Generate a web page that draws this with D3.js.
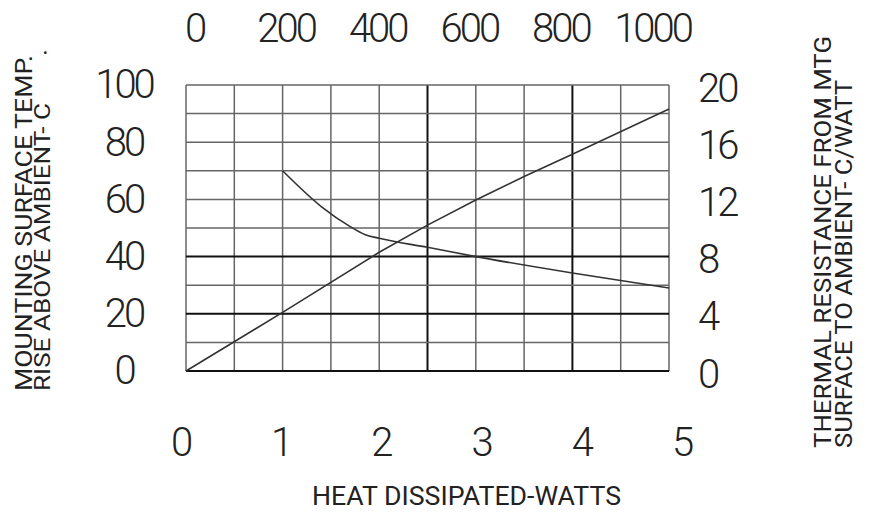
<!DOCTYPE html>
<html>
<head>
<meta charset="utf-8">
<script src="https://cdn.jsdelivr.net/npm/d3@7"></script>
<style>
  body { margin: 0; background: #fff; }
  text { font-family: Roboto, "Liberation Sans", sans-serif; font-weight: 300; fill: #222; }
  .ttl { font-weight: 400; }
</style>
</head>
<body>
<svg id="chart"></svg>
<script>
// temperature rise line (left axis)
var watts = [0, 1, 2, 2.5, 3, 3.5, 4, 5];
var tempRise = [0, 20.5, 41.5, 51, 59.8, 68, 75.8, 91.6];

// thermal resistance curve (right axis)
var resWatts = [1, 1.4, 1.7, 1.85, 2, 2.5, 3, 4, 5];
var resistance = [14, 11.5, 10.1, 9.55, 9.28, 8.65, 8, 6.85, 5.8];

var bottomTicks = [0, 1, 2, 3, 4, 5];
var topTicks = [0, 200, 400, 600, 800, 1000];
var leftTicks = [0, 20, 40, 60, 80, 100];
var rightTicks = [0, 4, 8, 12, 16, 20];
var heavyX = [2.5, 4];
var heavyY = [0, 20, 40];

var width = 872,
  height = 515;

var svg = d3.select("#chart")
  .attr("width", width)
  .attr("height", height);

var x = d3.scaleLinear().domain([0, 5]).range([186, 669]);
var y = d3.scaleLinear().domain([0, 100]).range([371, 85]);
var yR = d3.scaleLinear().domain([0, 20]).range([371, 85]);
var xTop = d3.scaleLinear().domain([0, 1000]).range([194, 652]);
var xLab = d3.scaleLinear().domain([0, 5]).range([180, 681]);

// grid
var grid = svg.append("g");
grid.selectAll("line.v")
  .data(x.ticks(10))
  .enter().append("line")
  .attr("x1", d => x(d)).attr("x2", d => x(d))
  .attr("y1", y(0)).attr("y2", y(100))
  .attr("stroke", d => heavyX.indexOf(d) >= 0 ? "#111" : "#666")
  .attr("stroke-width", d => heavyX.indexOf(d) >= 0 ? 2 : 1.5);

grid.selectAll("line.h")
  .data(y.ticks(10))
  .enter().append("line")
  .attr("x1", x(0)).attr("x2", x(5))
  .attr("y1", d => y(d)).attr("y2", d => y(d))
  .attr("stroke", d => heavyY.indexOf(d) >= 0 ? "#111" : "#666")
  .attr("stroke-width", d => heavyY.indexOf(d) >= 0 ? 2 : 1.5);

// curves
var tempLine = d3.line()
  .x(d => x(d[0]))
  .y(d => y(d[1]));

svg.append("path")
  .datum(d3.zip(watts, tempRise))
  .attr("d", tempLine)
  .attr("fill", "none")
  .attr("stroke", "#333")
  .attr("stroke-width", 1.6);

var resLine = d3.line()
  .curve(d3.curveMonotoneX)
  .x(d => x(d[0]))
  .y(d => yR(d[1]));

svg.append("path")
  .datum(d3.zip(resWatts, resistance))
  .attr("d", resLine)
  .attr("fill", "none")
  .attr("stroke", "#333")
  .attr("stroke-width", 1.6);

// axes
function tidy(g) {
  g.select(".domain").remove();
  g.selectAll("text")
    .attr("fill", "#222")
    .style("font-size", "40px")
    .style("letter-spacing", "-3px");
}

svg.append("g")
  .attr("transform", "translate(0,428)")
  .call(d3.axisBottom(xLab).tickValues(bottomTicks).tickFormat(d3.format("d")).tickSize(0).tickPadding(0))
  .call(tidy);

svg.append("g")
  .attr("transform", "translate(0,42)")
  .call(d3.axisTop(xTop).tickValues(topTicks).tickFormat(d3.format("d")).tickSize(0).tickPadding(0))
  .call(tidy);

svg.append("g")
  .attr("transform", "translate(124,0)")
  .call(d3.axisLeft(y).tickValues(leftTicks).tickSize(0).tickPadding(0))
  .call(tidy)
  .selectAll("text").attr("text-anchor", "middle").attr("x", 0);

svg.append("g")
  .attr("transform", "translate(698,0)")
  .call(d3.axisRight(yR).tickValues(rightTicks).tickSize(0).tickPadding(0))
  .call(tidy)
  .selectAll("text").attr("dy", "0.4em");

// titles
function title(txt, tx, ty, len, size) {
  svg.append("text")
    .attr("class", "ttl")
    .attr("transform", "translate(" + tx + "," + ty + ") rotate(-90)")
    .attr("textLength", len)
    .attr("lengthAdjust", "spacingAndGlyphs")
    .style("font-size", size + "px")
    .text(txt);
}

title("MOUNTING SURFACE TEMP.", 32, 391, 336, 23);
title("RISE ABOVE AMBIENT- C", 50, 391, 288, 22);
svg.append("text")
  .attr("x", 43).attr("y", 58)
  .style("font-size", "14px")
  .text("•");

title("THERMAL RESISTANCE FROM MTG", 831, 448, 412, 24);
title("SURFACE TO AMBIENT- C/WATT", 852, 448, 368, 23);
svg.append("text")
  .attr("transform", "translate(836,104) rotate(-90)")
  .style("font-size", "16px")
  .text("°");

svg.append("text")
  .attr("class", "ttl")
  .attr("x", 312).attr("y", 505)
  .attr("textLength", 309)
  .attr("lengthAdjust", "spacingAndGlyphs")
  .style("font-size", "25px")
  .text("HEAT DISSIPATED-WATTS");
</script>
</body>
</html>
